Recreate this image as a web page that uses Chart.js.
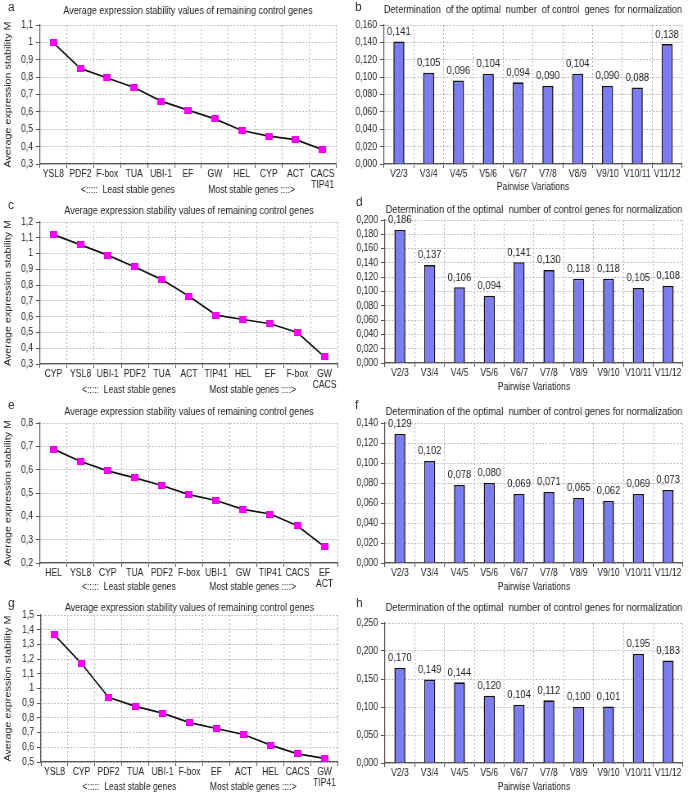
<!DOCTYPE html>
<html>
<head>
<meta charset="utf-8">
<script src="https://cdn.jsdelivr.net/npm/chart.js@4/dist/chart.umd.min.js"></script>
<style>
    body { margin: 0; background: #fff; width: 689px; height: 795px; position: relative; overflow: hidden; font-family: 'Liberation Sans', Arial, sans-serif; }
    .panel { position: absolute; width: 344px; }
    .letter { position: absolute; font-size: 12px; line-height: 14px; color: #333; }
</style>
</head>
<body>

<canvas id="chartA" class="panel"></canvas>
<canvas id="chartB" class="panel"></canvas>
<canvas id="chartC" class="panel"></canvas>
<canvas id="chartD" class="panel"></canvas>
<canvas id="chartE" class="panel"></canvas>
<canvas id="chartF" class="panel"></canvas>
<canvas id="chartG" class="panel"></canvas>
<canvas id="chartH" class="panel"></canvas>

<span class="letter" style="left:8px;top:0px">a</span>
<span class="letter" style="left:355px;top:0px">b</span>
<span class="letter" style="left:8px;top:198px">c</span>
<span class="letter" style="left:356px;top:195px">d</span>
<span class="letter" style="left:8px;top:398px">e</span>
<span class="letter" style="left:355px;top:398px">f</span>
<span class="letter" style="left:8px;top:596px">g</span>
<span class="letter" style="left:356px;top:596px">h</span>

<script>
// --- data ---
const genesA = ['YSL8', 'PDF2', 'F-box', 'TUA', 'UBI-1', 'EF', 'GW', 'HEL', 'CYP', 'ACT', ['CACS', 'TIP41']];
const stabilityA = [0.997, 0.850, 0.795, 0.740, 0.662, 0.610, 0.560, 0.493, 0.460, 0.440, 0.383];
const rangeA = [0.3, 1.1, 0.1];

const genesC = ['CYP', 'YSL8', 'UBI-1', 'PDF2', 'TUA', 'ACT', 'TIP41', 'HEL', 'EF', 'F-box', ['GW', 'CACS']];
const stabilityC = [1.120, 1.055, 0.990, 0.915, 0.835, 0.730, 0.610, 0.582, 0.555, 0.500, 0.345];
const rangeC = [0.3, 1.2, 0.1];

const genesE = ['HEL', 'YSL8', 'CYP', 'TUA', 'PDF2', 'F-box', 'UBI-1', 'GW', 'TIP41', 'CACS', ['EF', 'ACT']];
const stabilityE = [0.688, 0.635, 0.595, 0.565, 0.532, 0.493, 0.468, 0.430, 0.410, 0.360, 0.270];
const rangeE = [0.2, 0.8, 0.1];

const genesG = ['YSL8', 'CYP', 'PDF2', 'TUA', 'UBI-1', 'F-box', 'EF', 'ACT', 'HEL', 'CACS', ['GW', 'TIP41']];
const stabilityG = [1.365, 1.170, 0.940, 0.878, 0.832, 0.768, 0.728, 0.687, 0.615, 0.555, 0.525];
const rangeG = [0.5, 1.5, 0.1];

const pairwise = ['V2/3', 'V3/4', 'V4/5', 'V5/6', 'V6/7', 'V7/8', 'V8/9', 'V9/10', 'V10/11', 'V11/12'];
const variationB = [0.141, 0.105, 0.096, 0.104, 0.094, 0.090, 0.104, 0.090, 0.088, 0.138];
const rangeB = [0, 0.16, 0.02];
const variationD = [0.186, 0.137, 0.106, 0.094, 0.141, 0.130, 0.118, 0.118, 0.105, 0.108];
const rangeD = [0, 0.2, 0.02];
const variationF = [0.129, 0.102, 0.078, 0.080, 0.069, 0.071, 0.065, 0.062, 0.069, 0.073];
const rangeF = [0, 0.14, 0.02];
const variationH = [0.170, 0.149, 0.144, 0.120, 0.104, 0.112, 0.100, 0.101, 0.195, 0.183];
const rangeH = [0, 0.25, 0.05];

const lineTitle = 'Average expression stability values of remaining control genes';
const barTitleB = 'Determination  of the optimal  number  of control  genes  for normalization';
const barTitle = 'Determination of the optimal  number of control genes for normalization';
const lineXTitle = '<:::::  Least stable genes              Most stable genes ::::>';

const FONT = "'Liberation Sans', Arial, sans-serif";

// the original figure is squeezed horizontally; canvases are drawn wider and shrunk by S
const S = 0.82;
const cx = px => px / S;

// comma decimals like the original
const fmt1 = v => String(Math.round(v * 10) / 10).replace('.', ',');
const fmt3 = v => v.toFixed(3).replace('.', ',');

// magenta square marker, pre-stretched so it ends up square after the squeeze
function squareMarker() {
    const c = document.createElement('canvas');
    c.width = Math.round(cx(7));
    c.height = 7;
    const ctx = c.getContext('2d');
    ctx.fillStyle = '#e800e8';
    ctx.fillRect(0, 0, c.width, c.height);
    ctx.fillStyle = '#ff00ff';
    ctx.fillRect(1, 1, c.width - 2, c.height - 2);
    return c;
}
const marker = squareMarker();

const barValueLabels = {
    id: 'barValueLabels',
    afterDatasetsDraw(chart) {
        const ctx = chart.ctx;
        const data = chart.data.datasets[0].data;
        ctx.save();
        ctx.font = '11.5px ' + FONT;
        ctx.fillStyle = '#222';
        ctx.textAlign = 'center';
        ctx.textBaseline = 'bottom';
        chart.getDatasetMeta(0).data.forEach((bar, i) => {
            ctx.fillText(fmt3(data[i]), bar.x, bar.y - 4);
        });
        ctx.restore();
    }
};

function placeCanvas(id, g) {
    const el = document.getElementById(id);
    el.width = Math.round(cx(344));
    el.height = g.h;
    el.style.left = g.left + 'px';
    el.style.top = g.top + 'px';
    el.style.width = '344px';
    el.style.height = g.h + 'px';
    return el;
}

function commonScales(g, range, fmt, xTitle, yTitle) {
    return {
        x: {
            type: 'category',
            offset: true,
            grid: { offset: true, color: '#b8b8b8', tickColor: '#555', tickLength: 4, tickBorderDash: [] },
            border: { color: '#555', width: 1.2, dash: [2, 2] },
            ticks: { color: '#222', padding: 1, maxRotation: 0, autoSkip: false, font: { family: FONT, size: 10.5, lineHeight: 1.05 } },
            title: { display: true, text: xTitle, color: '#222', padding: 0, font: { family: FONT, size: 10.5, lineHeight: 1.2 } },
            afterFit: scale => { scale.height = g.h - g.plotBottom; }
        },
        y: {
            min: range[0],
            max: range[1],
            grid: { color: '#b8b8b8', tickColor: '#555', tickLength: 5, tickBorderDash: [] },
            border: { color: '#555', width: 1.2, dash: [2, 2] },
            ticks: { stepSize: range[2], autoSkip: false, color: '#222', padding: 3.5, font: { family: FONT, size: 10.5 }, callback: v => fmt(v) },
            title: { display: !!yTitle, text: yTitle, color: '#222', padding: 1, font: { family: FONT, size: 10.8, lineHeight: 1.2 } },
            afterFit: scale => { scale.width = cx(g.plotLeft - 2); }
        }
    };
}

function titleOpts(g, text, size) {
    const lh = size * 1.2;
    const padTop = g.titleY - lh / 2;
    return {
        display: true,
        fullSize: false,
        text: text,
        color: '#222',
        font: { family: FONT, size: size, weight: 'normal', lineHeight: 1.2 },
        padding: { top: padTop, bottom: Math.max(0, g.plotTop - padTop - lh) }
    };
}

function layoutPadding(g) {
    return { left: cx(2), right: cx(344 - g.plotRight), top: 0, bottom: 0 };
}

function makeLineChart(id, g, labels, values, range) {
    const el = placeCanvas(id, g);
    new Chart(el, {
        type: 'line',
        data: {
            labels: labels,
            datasets: [{
                data: values,
                borderColor: '#111',
                borderWidth: 1.7,
                pointStyle: marker,
                pointRadius: 5,
                tension: 0
            }]
        },
        options: {
            responsive: false,
            animation: false,
            layout: { padding: layoutPadding(g) },
            scales: commonScales(g, range, fmt1, lineXTitle, 'Average expression stability M'),
            plugins: {
                legend: { display: false },
                tooltip: { enabled: false },
                title: titleOpts(g, lineTitle, 11)
            }
        }
    });
}

function makeBarChart(id, g, values, range, title) {
    const el = placeCanvas(id, g);
    new Chart(el, {
        type: 'bar',
        data: {
            labels: pairwise,
            datasets: [{
                data: values,
                backgroundColor: '#7b7bf2',
                borderColor: '#111',
                borderWidth: 1.6,
                categoryPercentage: 1,
                barPercentage: 0.37
            }]
        },
        options: {
            responsive: false,
            animation: false,
            layout: { padding: layoutPadding(g) },
            scales: commonScales(g, range, fmt3, 'Pairwise Variations', ''),
            plugins: {
                legend: { display: false },
                tooltip: { enabled: false },
                title: titleOpts(g, title, 11.5)
            }
        },
        plugins: [barValueLabels]
    });
}

makeLineChart('chartA', { left: 0, top: 0, h: 196, plotLeft: 40, plotRight: 336, plotTop: 25, plotBottom: 164, titleY: 11 }, genesA, stabilityA, rangeA);
makeBarChart('chartB', { left: 344, top: 0, h: 193, plotLeft: 40, plotRight: 338, plotTop: 25, plotBottom: 164, titleY: 10 }, variationB, rangeB, barTitleB);
makeLineChart('chartC', { left: 0, top: 195, h: 201, plotLeft: 40, plotRight: 338, plotTop: 27, plotBottom: 169, titleY: 15.7 }, genesC, stabilityC, rangeC);
makeBarChart('chartD', { left: 344, top: 195, h: 198, plotLeft: 41, plotRight: 339, plotTop: 25, plotBottom: 168, titleY: 15 }, variationD, rangeD, barTitle);
makeLineChart('chartE', { left: 0, top: 390, h: 203, plotLeft: 40, plotRight: 338, plotTop: 33, plotBottom: 173, titleY: 21.7 }, genesE, stabilityE, rangeE);
makeBarChart('chartF', { left: 344, top: 390, h: 203, plotLeft: 41, plotRight: 339, plotTop: 33, plotBottom: 173, titleY: 21.7 }, variationF, rangeF, barTitle);
makeLineChart('chartG', { left: 0, top: 590, h: 203, plotLeft: 41, plotRight: 338, plotTop: 25, plotBottom: 172, titleY: 18.3 }, genesG, stabilityG, rangeG);
makeBarChart('chartH', { left: 344, top: 590, h: 203, plotLeft: 41, plotRight: 339, plotTop: 33, plotBottom: 173, titleY: 18.3 }, variationH, rangeH, barTitle);
</script>
</body>
</html>
